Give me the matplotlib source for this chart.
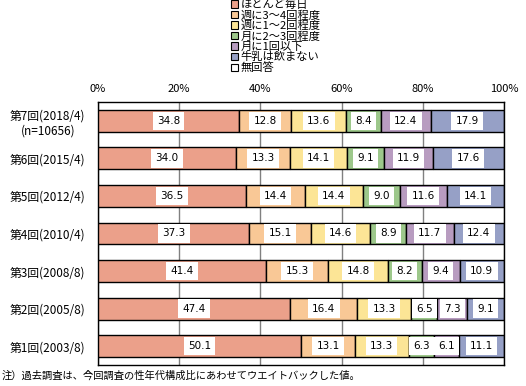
import matplotlib
matplotlib.use("Agg")
import matplotlib.pyplot as plt
from matplotlib.patches import Patch
import numpy as np

plt.rcParams['font.family'] = ['Noto Sans CJK JP', 'DejaVu Sans']

categories = ["第7回(2018/4)\n(n=10656)", "第6回(2015/4)", "第5回(2012/4)",
              "第4回(2010/4)", "第3回(2008/8)", "第2回(2005/8)", "第1回(2003/8)"]
series_names = ["ほとんど毎日", "週に3～4回程度", "週に1～2回程度", "月に2～3回程度",
                "月に1回以下", "牛乳は飲まない", "無回答"]
everyday = [34.8, 34.0, 36.5, 37.3, 41.4, 47.4, 50.1]
week34 = [12.8, 13.3, 14.4, 15.1, 15.3, 16.4, 13.1]
week12 = [13.6, 14.1, 14.4, 14.6, 14.8, 13.3, 13.3]
month23 = [8.4, 9.1, 9.0, 8.9, 8.2, 6.5, 6.3]
month1 = [12.4, 11.9, 11.6, 11.7, 9.4, 7.3, 6.1]
never = [17.9, 17.6, 14.1, 12.4, 10.9, 9.1, 11.1]
noanswer = [0.1, 0.0, 0.0, 0.0, 0.0, 0.0, 0.0]
xticklabels = ["0%", "20%", "40%", "60%", "80%", "100%"]
note = "注）過去調査は、今回調査の性年代構成比にあわせてウエイトバックした値。"

colors = ["#EBA08A", "#F9C896", "#FCE596", "#9DC88B", "#B89CC0", "#96A0C6", "#FFFFFF"]
series = [everyday, week34, week12, month23, month1, never, noanswer]

fig = plt.figure(figsize=(5.26, 3.86), dpi=100)
ax = fig.add_axes([98/526, 1-365/386, (504-98)/526, (365-102)/386])

n = len(categories)
y = np.arange(n)[::-1]
left = np.zeros(n)
for vals, c, name in zip(series, colors, series_names):
    vals = np.array(vals)
    ax.barh(y, vals, left=left, height=0.58, color=c, edgecolor="black", linewidth=1.0, zorder=3)
    if name != "無回答":
        for yi, l, v in zip(y, left, vals):
            ax.text(l + v/2, yi, f"{v:.1f}", ha="center", va="center", fontsize=7.5,
                    family="DejaVu Sans", zorder=4,
                    bbox=dict(boxstyle="square,pad=0.4", facecolor="white", edgecolor="none"))
    left += vals

ax.set_xlim(0, 100)
ax.set_ylim(-0.5, n - 0.5)
ax.set_xticks([0, 20, 40, 60, 80, 100])
ax.set_xticklabels(xticklabels, fontsize=8)
ax.xaxis.tick_top()
ax.tick_params(axis="x", length=0, pad=6)
ax.set_yticks(y)
ax.set_yticklabels(categories, fontsize=8.5, multialignment="center")
ax.tick_params(axis="y", length=0, pad=9)
ax.grid(axis="x", color="#808080", linewidth=1.0, zorder=0)
ax.set_axisbelow(True)
for s in ax.spines.values():
    s.set_color("black")
    s.set_linewidth(1.0)

handles = [Patch(facecolor=c, edgecolor="black", linewidth=0.8) for c in colors]
fig.legend(handles, series_names, loc="upper left", bbox_to_anchor=(231/526, 1 + 1/386),
           frameon=False, fontsize=8.1, handlelength=0.65, handleheight=0.65,
           handletextpad=0.2, labelspacing=0.02, borderpad=0, borderaxespad=0)

fig.text(2/526, 1 - 376/386, note, fontsize=7.4, ha="left", va="center")

fig.savefig("out.png", dpi=100)
